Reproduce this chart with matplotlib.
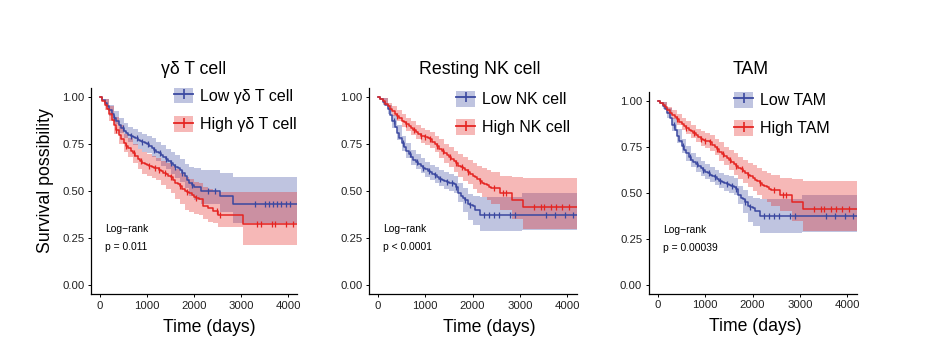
import numpy as np
import matplotlib
matplotlib.use("Agg")
import matplotlib.pyplot as plt
from matplotlib.patches import Patch
from matplotlib.lines import Line2D

plt.rcParams['font.family'] = ['Liberation Sans', 'DejaVu Sans']

BLUE = '#3A48A0'
RED = '#E52421'

# ---- panel 1: gamma delta T cell ----
# survival curves (read every ~50 days)
gd_low_t = list(range(0, 2050, 50)) + [2150, 2550, 2830, 4200]
gd_low_s = [1.0, 0.985, 0.97, 0.95, 0.93, 0.91, 0.89, 0.87, 0.85, 0.835, 0.82, 0.81, 0.80, 0.795,
            0.788, 0.78, 0.77, 0.765, 0.76, 0.755, 0.75, 0.74, 0.73, 0.72, 0.71, 0.70, 0.69, 0.68,
            0.67, 0.66, 0.65, 0.64, 0.63, 0.62, 0.61, 0.595, 0.58, 0.56, 0.54, 0.53, 0.52,
            0.50, 0.475, 0.433, 0.433]
gd_low_cens = [300, 480, 650, 780, 900, 1020, 1150, 1280, 1400, 1520, 1600, 1750, 1950, 2300,
               2450, 3300, 3520, 3600, 3680, 3760, 3850, 3950, 4050]

gd_high_t = list(range(0, 2150, 50)) + [2200, 2300, 2400, 2500, 3050, 4200]
gd_high_s = [1.0, 0.98, 0.96, 0.935, 0.91, 0.88, 0.85, 0.825, 0.80, 0.775, 0.755, 0.742, 0.73,
             0.715, 0.70, 0.685, 0.67, 0.658, 0.648, 0.643, 0.64, 0.635, 0.63, 0.625, 0.62, 0.612,
             0.605, 0.598, 0.59, 0.582, 0.575, 0.56, 0.545, 0.535, 0.525, 0.51, 0.50, 0.495, 0.49,
             0.48, 0.47, 0.462, 0.455, 0.42, 0.41, 0.395, 0.375, 0.324, 0.324]
gd_high_cens = [350, 560, 720, 880, 1050, 1180, 1250, 1380, 1500, 1700, 1850, 2050, 2480, 2560,
                3350, 3420, 3650, 3720, 3960, 4100]

# confidence bands
gd_low_ci_t = [0, 100, 200, 300, 400, 500, 600, 700, 800, 900, 1000, 1100, 1200, 1300,
               1400, 1500, 1600, 1700, 1800, 1900, 2000, 2150, 2550, 2830, 4200]
gd_low_hi = [1.0, 0.99, 0.96, 0.925, 0.89, 0.86, 0.84, 0.83, 0.815, 0.805, 0.795, 0.78, 0.76, 0.745,
             0.725, 0.71, 0.69, 0.67, 0.645, 0.63, 0.62, 0.612, 0.594, 0.576, 0.576]
gd_low_lo = [1.0, 0.95, 0.90, 0.855, 0.81, 0.78, 0.76, 0.745, 0.725, 0.71, 0.70, 0.68, 0.66, 0.635,
             0.615, 0.59, 0.57, 0.55, 0.515, 0.475, 0.45, 0.43, 0.39, 0.33, 0.33]

gd_high_ci_t = [0, 100, 200, 300, 400, 500, 600, 700, 800, 900, 1000, 1100, 1200, 1300, 1400,
                1500, 1600, 1700, 1800, 1900, 2000, 2100, 2200, 2300, 2400, 2500, 3050, 4200]
gd_high_hi = [1.0, 0.99, 0.95, 0.895, 0.85, 0.805, 0.78, 0.75, 0.725, 0.705, 0.695, 0.685, 0.675, 0.66,
              0.65, 0.635, 0.615, 0.595, 0.575, 0.565, 0.55, 0.54, 0.52, 0.51, 0.50, 0.497, 0.496, 0.496]
gd_high_lo = [1.0, 0.93, 0.87, 0.805, 0.75, 0.705, 0.68, 0.65, 0.615, 0.59, 0.58, 0.57, 0.56, 0.53,
              0.51, 0.49, 0.455, 0.43, 0.40, 0.39, 0.375, 0.37, 0.35, 0.335, 0.328, 0.31, 0.213, 0.213]

# ---- panels 2 and 3: resting NK cell / TAM (same curves) ----
nk_low_t = list(range(0, 2100, 50)) + [2150, 4200]
nk_low_s = [1.0, 0.99, 0.975, 0.958, 0.935, 0.905, 0.87, 0.84, 0.81, 0.782, 0.755, 0.735, 0.715,
            0.697, 0.68, 0.667, 0.655, 0.645, 0.635, 0.625, 0.615, 0.607, 0.60, 0.592, 0.585,
            0.575, 0.565, 0.56, 0.555, 0.55, 0.545, 0.54, 0.535, 0.52, 0.49, 0.475, 0.465, 0.45,
            0.43, 0.425, 0.42, 0.40, 0.375, 0.375]
nk_low_cens = [330, 520, 680, 820, 960, 1080, 1200, 1320, 1450, 1560, 1650, 1850, 1950, 2250,
               2350, 2450, 2550, 2800, 2900, 3550, 3750, 3950, 4120]

nk_high_t = list(range(0, 2450, 50)) + [2580, 2830, 3060, 4200]
nk_high_s = [1.0, 0.99, 0.98, 0.965, 0.95, 0.937, 0.925, 0.912, 0.90, 0.887, 0.875, 0.865, 0.855,
             0.845, 0.835, 0.825, 0.815, 0.805, 0.795, 0.79, 0.785, 0.78, 0.775, 0.762, 0.75,
             0.737, 0.725, 0.712, 0.70, 0.69, 0.68, 0.67, 0.66, 0.647, 0.635, 0.628, 0.62, 0.61,
             0.60, 0.59, 0.58, 0.572, 0.565, 0.555, 0.545, 0.537, 0.53, 0.522, 0.515,
             0.488, 0.45, 0.413, 0.413]
nk_high_cens = [400, 600, 760, 900, 1000, 1100, 1250, 1380, 1520, 1650, 1780, 1900, 2150, 2450,
                2650, 2700, 3300, 3450, 3520, 3650, 3760, 3900, 4050]

nk_low_ci_t = [0, 100, 200, 300, 400, 500, 600, 700, 800, 900, 1000, 1100, 1200, 1300, 1400,
               1500, 1600, 1700, 1800, 1900, 2000, 2150, 3040, 4200]
nk_low_hi = [1.0, 0.995, 0.96, 0.905, 0.85, 0.795, 0.755, 0.72, 0.695, 0.675, 0.655, 0.64, 0.625,
             0.61, 0.60, 0.59, 0.58, 0.54, 0.515, 0.485, 0.475, 0.47, 0.488, 0.488]
nk_low_lo = [1.0, 0.955, 0.91, 0.835, 0.77, 0.715, 0.675, 0.64, 0.615, 0.595, 0.575, 0.56, 0.545,
             0.525, 0.51, 0.50, 0.49, 0.44, 0.39, 0.345, 0.32, 0.285, 0.29, 0.29]

nk_high_ci_t = [0, 100, 200, 300, 400, 500, 600, 700, 800, 900, 1000, 1100, 1200, 1300, 1400,
                1500, 1600, 1700, 1800, 1900, 2000, 2100, 2200, 2300, 2400, 2580, 2830, 3060, 4200]
nk_high_hi = [1.0, 0.995, 0.97, 0.95, 0.93, 0.91, 0.89, 0.87, 0.85, 0.835, 0.825, 0.815, 0.795,
              0.775, 0.75, 0.735, 0.715, 0.695, 0.68, 0.665, 0.65, 0.635, 0.62, 0.61, 0.60, 0.58,
              0.575, 0.567, 0.567]
nk_high_lo = [1.0, 0.965, 0.93, 0.90, 0.87, 0.84, 0.82, 0.80, 0.775, 0.755, 0.745, 0.73, 0.705,
              0.675, 0.65, 0.625, 0.60, 0.575, 0.555, 0.535, 0.51, 0.49, 0.47, 0.45, 0.43, 0.40,
              0.35, 0.296, 0.296]

gd = dict(low=(gd_low_t, gd_low_s, gd_low_cens, gd_low_ci_t, gd_low_lo, gd_low_hi),
          high=(gd_high_t, gd_high_s, gd_high_cens, gd_high_ci_t, gd_high_lo, gd_high_hi))
nk = dict(low=(nk_low_t, nk_low_s, nk_low_cens, nk_low_ci_t, nk_low_lo, nk_low_hi),
          high=(nk_high_t, nk_high_s, nk_high_cens, nk_high_ci_t, nk_high_lo, nk_high_hi))

titles = ["γδ T cell", "Resting NK cell", "TAM"]
legend_labels = [["Low γδ T cell", "High γδ T cell"], ["Low NK cell", "High NK cell"],
                 ["Low TAM", "High TAM"]]
pvals = ["p = 0.011", "p < 0.0001", "p = 0.00039"]
curves = [gd, nk, nk]

W, H = 936, 361
# axes boxes in pixels: left, top, right, bottom
boxes = [(90.6, 87.6, 297.4, 294.4), (368.6, 87.6, 576.5, 294.4), (648.5, 91.8, 856.5, 294.2)]
title_x = [0.5, 0.533, 0.49]
xlabel_x = [0.572, 0.579, 0.514]
legend_x = [0.403, 0.42, 0.411]
legend_y = [1.0, 0.985, 1.0]


def surv_at(t, s, x):
    idx = np.searchsorted(t, x, side='right') - 1
    return np.asarray(s)[idx]


fig = plt.figure(figsize=(W / 100, H / 100), dpi=100)

for i in range(3):
    l, t, r, b = boxes[i]
    ax = fig.add_axes([l / W, 1 - b / H, (r - l) / W, (b - t) / H])

    for key, col in (("low", BLUE), ("high", RED)):
        tt, ss, cens, ct, lo, hi = curves[i][key]
        ax.fill_between(ct, lo, hi, step='post', color=col, alpha=0.32, lw=0)
        ax.step(tt, ss, where='post', color=col, lw=1.1)
        ax.plot(cens, surv_at(tt, ss, cens), ls='none', marker='|', ms=4, mew=0.9, color=col)

    ax.set_xlim(-200, 4200)
    ax.set_ylim(-0.05, 1.05)
    ax.set_xticks([0, 1000, 2000, 3000, 4000])
    ax.set_yticks([0, 0.25, 0.5, 0.75, 1.0])
    ax.set_yticklabels(["0.00", "0.25", "0.50", "0.75", "1.00"])
    ax.tick_params(labelsize=8.2, labelcolor='#222222', length=2.5, width=0.7, pad=2)
    for sp in ("top", "right"):
        ax.spines[sp].set_visible(False)
    for sp in ("left", "bottom"):
        ax.spines[sp].set_linewidth(0.9)

    ax.set_title(titles[i], fontsize=12.8, x=title_x[i], pad=9.5 if i < 2 else 12.5)
    ax.set_xlabel("Time (days)", fontsize=12.7)
    ax.xaxis.set_label_coords(xlabel_x[i], -0.12)
    if i == 0:
        ax.set_ylabel("Survival possibility", fontsize=12.8)
        ax.yaxis.set_label_coords(-0.175, 0.55)

    ax.text(100, 0.30, "Log\u2212rank", fontsize=7.4, va='center')
    ax.text(100, 0.20, pvals[i], fontsize=7.4, va='center')

    handles = []
    for col in (BLUE, RED):
        handles.append((Patch(facecolor=col, alpha=0.32, lw=0),
                        Line2D([], [], color=col, lw=1.3, marker='|', ms=7, mew=1.2)))
    ax.legend(handles, legend_labels[i], loc='upper left', bbox_to_anchor=(legend_x[i], legend_y[i]),
              frameon=False, fontsize=11.5, borderpad=0, borderaxespad=0, handlelength=1.2,
              handleheight=1.15, handletextpad=0.45, labelspacing=0.75, numpoints=1)

fig.savefig("out.png", dpi=100)
